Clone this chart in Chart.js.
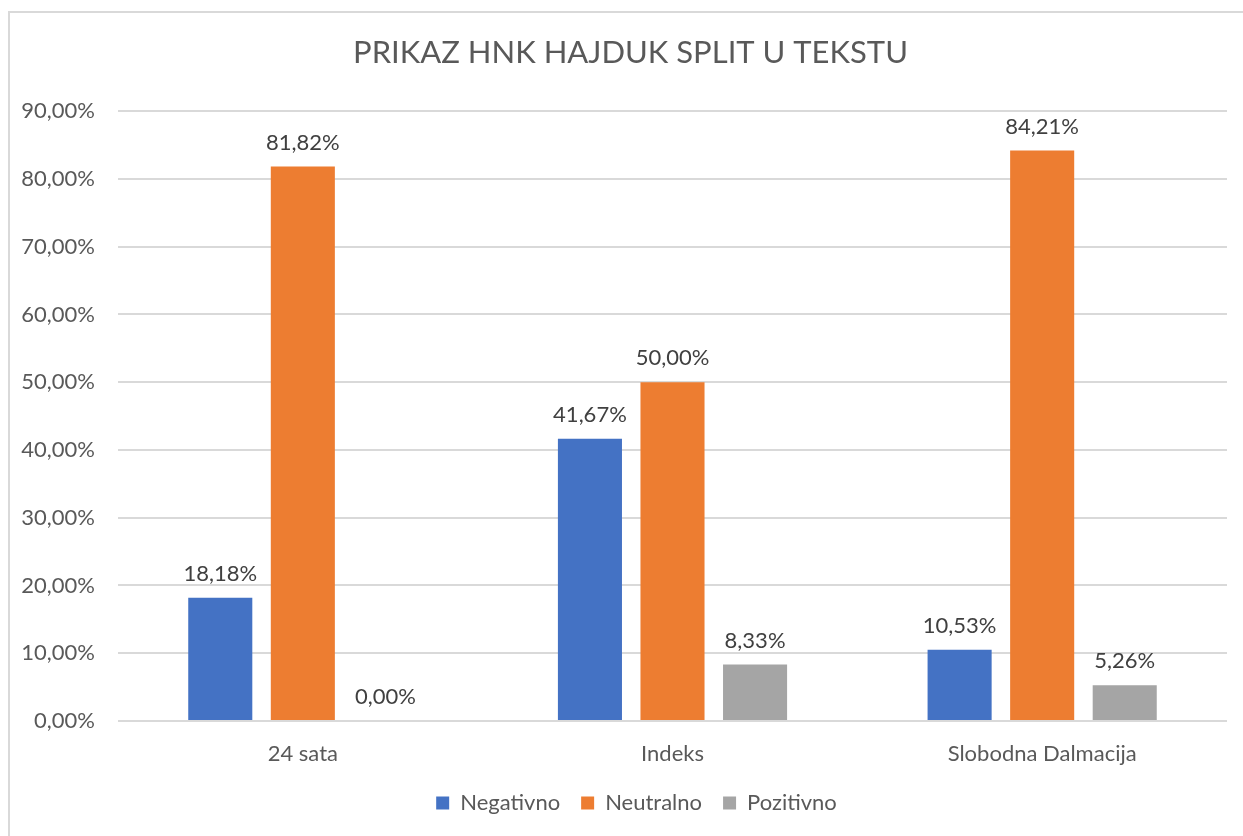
<!DOCTYPE html>
<html>
<head>
<meta charset="utf-8">
<script src="https://cdn.jsdelivr.net/npm/chart.js@4/dist/chart.umd.min.js"></script>
<style>
  html, body { margin: 0; padding: 0; background: #fff; overflow: hidden; }
  #wrap { position: relative; width: 1243px; height: 836px; }
  #frame { position: absolute; left: 8px; top: 11px; width: 1260px; height: 900px; border: 2px solid #d9d9d9; }
  canvas { position: absolute; left: 0; top: 0; }
</style>
</head>
<body>
<div id="wrap">
  <div id="frame"></div>
  <canvas id="chart" width="1243" height="836"></canvas>
</div>
<script>
// podaci
const categories = ['24 sata', 'Indeks', 'Slobodna Dalmacija'];
const negativno = [18.18, 41.67, 10.53];
const neutralno = [81.82, 50.00, 84.21];
const pozitivno = [0.00, 8.33, 5.26];

const FONT = 'Lato, "Open Sans", sans-serif';
const fmt = v => v.toFixed(2).replace('.', ',') + '%';

// oznake vrijednosti iznad stupaca
const valueLabels = {
    id: 'valueLabels',
    afterDatasetsDraw(chart) {
        const ctx = chart.ctx;
        ctx.save();
        ctx.font = '22px ' + FONT;
        ctx.fillStyle = '#404040';
        ctx.textAlign = 'center';
        ctx.textBaseline = 'middle';
        chart.data.datasets.forEach((ds, i) => {
            chart.getDatasetMeta(i).data.forEach((bar, j) => {
                ctx.fillText(fmt(ds.data[j]), bar.x, bar.y - 24);
            });
        });
        ctx.restore();
    }
};

// naslov i legenda malo udesno, kao u Excelu
const shiftBoxes = {
    id: 'shiftBoxes',
    afterLayout(chart) {
        const t = chart.titleBlock, l = chart.legend;
        if (t) { t.left += 17; t.right += 17; }
        if (l) { l.left += 23; l.right += 23; }
    }
};

new Chart(document.getElementById('chart'), {
    type: 'bar',
    data: {
        labels: categories,
        datasets: [
            { label: 'Negativno', data: negativno, backgroundColor: '#4472C4' },
            { label: 'Neutralno', data: neutralno, backgroundColor: '#ED7D31' },
            { label: 'Pozitivno', data: pozitivno, backgroundColor: '#A5A5A5' }
        ]
    },
    options: {
        responsive: false,
        animation: false,
        categoryPercentage: 0.67,
        barPercentage: 0.776,
        layout: { padding: { left: 0, right: 16, top: 0, bottom: 12 } },
        plugins: {
            title: {
                display: true,
                text: 'PRIKAZ HNK HAJDUK SPLIT U TEKSTU',
                color: '#595959',
                font: { family: FONT, size: 31, weight: 'normal' },
                padding: { top: 34, bottom: 40 }
            },
            legend: {
                position: 'bottom',
                labels: {
                    color: '#595959',
                    font: { family: FONT, size: 22 },
                    boxWidth: 13,
                    boxHeight: 13,
                    padding: 21
                }
            },
            tooltip: { enabled: false }
        },
        scales: {
            x: {
                afterFit: s => { s.height = 50; },
                grid: { display: false, drawTicks: false },
                border: { display: false },
                ticks: { color: '#595959', font: { family: FONT, size: 22 }, padding: 20 }
            },
            y: {
                min: 0,
                max: 90,
                afterFit: s => { s.width = 118; },
                grid: { color: '#d9d9d9', lineWidth: 2, drawTicks: false },
                border: { display: false },
                ticks: {
                    stepSize: 10,
                    color: '#595959',
                    font: { family: FONT, size: 22 },
                    padding: 23,
                    callback: v => fmt(v)
                }
            }
        }
    },
    plugins: [valueLabels, shiftBoxes]
});
</script>
</body>
</html>
